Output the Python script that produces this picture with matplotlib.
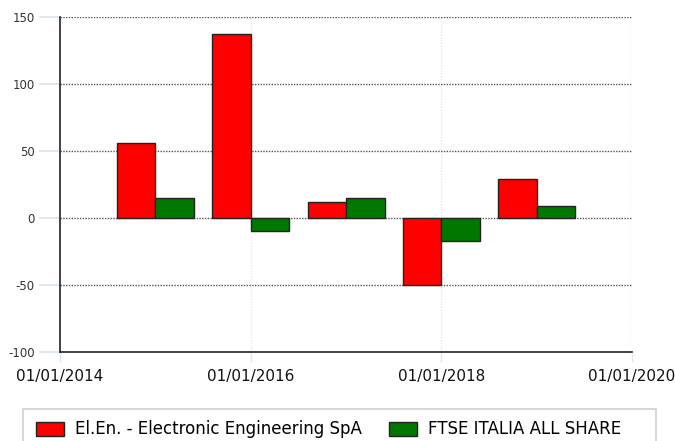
import matplotlib
matplotlib.use("Agg")
import matplotlib.pyplot as plt
import matplotlib.dates as mdates
from matplotlib.patches import Rectangle
from datetime import datetime

# Data
periods = ["2015-01-01", "2016-01-01", "2017-01-01", "2018-01-01", "2019-01-01"]
elen_values = [56, 137, 12, -50, 29]
ftse_values = [15, -10, 15, -17, 9]
series_names = ["El.En. - Electronic Engineering SpA", "FTSE ITALIA ALL SHARE"]
x_tick_labels = ["01/01/2014", "01/01/2016", "01/01/2018", "01/01/2020"]
x_tick_dates = ["2014-01-01", "2016-01-01", "2018-01-01", "2020-01-01"]
y_ticks = [-100, -50, 0, 50, 100, 150]

plt.rcParams["font.family"] = ["DejaVu Sans"]
plt.rcParams["axes.unicode_minus"] = False

W, H = 675, 441
fig = plt.figure(figsize=(W / 100, H / 100), dpi=100)
ax = fig.add_axes([60 / W, 1 - 352 / H, (632 - 60) / W, (352 - 17) / H])

dates = [datetime.strptime(d, "%Y-%m-%d") for d in periods]
xnum = mdates.date2num(dates)
bw = 0.405 * 365.25

ax.bar(xnum, elen_values, width=-bw, align="edge", color="#ff0000",
       edgecolor="#222222", linewidth=1.0, zorder=3, label=series_names[0])
ax.bar(xnum, ftse_values, width=bw, align="edge", color="#007800",
       edgecolor="#222222", linewidth=1.0, zorder=3, label=series_names[1])

xt = mdates.date2num([datetime.strptime(d, "%Y-%m-%d") for d in x_tick_dates])
ax.set_xlim(xt[0], xt[-1])
ax.set_ylim(-100, 150)
ax.set_xticks(xt)
ax.set_xticklabels(x_tick_labels)
ax.set_yticks(y_ticks)

# gridlines
ax.grid(False)
for y in y_ticks[1:]:
    ax.axhline(y, color="#555555", linestyle=(0, (1, 1)), linewidth=1.0, zorder=2)
for x in xt[1:]:
    ax.axvline(x, color="#dfe9f6", linestyle=(0, (1, 1)), linewidth=1.0, zorder=1)

for s in ["top", "right"]:
    ax.spines[s].set_visible(False)
for s in ["left", "bottom"]:
    ax.spines[s].set_color("#222222")
    ax.spines[s].set_linewidth(1.2)
    ax.spines[s].set_zorder(4)

ax.tick_params(axis="y", length=15, width=1.5, color="#dfe9f6", pad=3,
               labelsize=8.5, labelcolor="#333333")
ax.tick_params(axis="x", length=7, width=1, color="#dfe9f6", pad=5,
               labelsize=11, labelcolor="#111111")

# legend box
fig.patches.append(Rectangle((23 / W, -0.05), (656 - 23) / W, (441 - 409) / H + 0.05,
                             transform=fig.transFigure, facecolor="white",
                             edgecolor="#d8d8d8", linewidth=1.5, zorder=0))
handles, labels = ax.get_legend_handles_labels()
leg = fig.legend(handles, labels, ncol=2, loc="center left",
                 bbox_to_anchor=(36 / W, 1 - 429.5 / H), frameon=False,
                 fontsize=12, handlelength=1.68, handleheight=0.9,
                 handletextpad=0.66, columnspacing=1.6, borderpad=0,
                 borderaxespad=0)

fig.savefig("out.png", dpi=100)
